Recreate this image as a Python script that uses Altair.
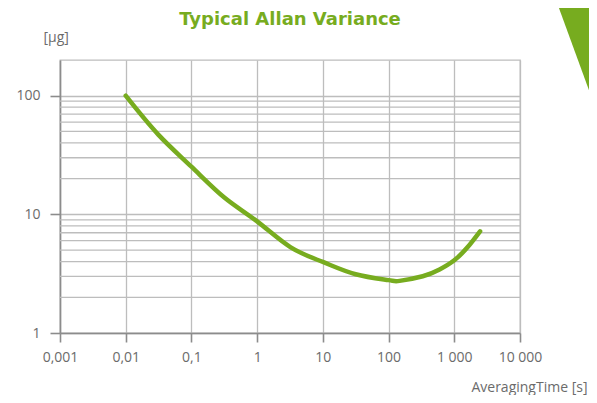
import altair as alt
import pandas as pd

# Curve (averaging time [s], Allan deviation [µg])
tau = [0.01, 0.0313, 0.1, 0.32, 1, 3.2, 10, 31.6, 100, 147, 331, 597, 1000, 1600, 2470]
dev = [100, 47, 25.2, 13.8, 8.73, 5.3, 3.97, 3.13, 2.79, 2.75, 3.01, 3.43, 4.1, 5.3, 7.2]

x_ticks = [0.001, 0.01, 0.1, 1, 10, 100, 1000, 10000]
x_labels = ["0,001", "0,01", "0,1", "1", "10", "100", "1 000", "10 000"]
y_ticks = [1, 10, 100]
y_labels = ["1", "10", "100"]
y_minor = [2, 3, 4, 5, 6, 7, 8, 9, 20, 30, 40, 50, 60, 70, 80, 90]

GREEN = "#77ac1f"
GRID = "#bdbdbd"
TEXT = "#6b6b6b"
FONT = "Open Sans"

df = pd.DataFrame({"tau": tau, "dev": dev})
minor = pd.DataFrame({"v": y_minor})

x_expr = " : ".join(f"datum.value == {v} ? '{l}'" for v, l in zip(x_ticks, x_labels)) + " : ''"
y_expr = " : ".join(f"datum.value == {v} ? '{l}'" for v, l in zip(y_ticks, y_labels)) + " : ''"

xscale = alt.Scale(type="log", domain=[0.001, 10000])
yscale = alt.Scale(type="log", domain=[1, 200])

x_axis = alt.Axis(
    values=x_ticks, labelExpr=x_expr, title="AveragingTime [s]",
    grid=True, gridColor=GRID, gridWidth=1.3, gridOpacity=1,
    domainColor="#8c8c8c", domainWidth=1.6, tickColor="#8c8c8c", tickWidth=1.6,
    tickSize=9, labelPadding=8, labelColor=TEXT, labelFontSize=14, labelFont=FONT,
    labelFlush=False,
    titleFont=FONT, titleFontSize=14, titleFontWeight="normal", titleColor=TEXT,
    titleAnchor="end", titleAlign="right", titleX=527, titleY=54, titleBaseline="middle",
)
y_axis = alt.Axis(
    values=y_ticks, labelExpr=y_expr, title="[µg]",
    grid=True, gridColor=GRID, gridWidth=1.3, gridOpacity=1,
    domainColor="#8c8c8c", domainWidth=1.6, tickColor="#8c8c8c", tickWidth=1.6,
    tickSize=10, labelPadding=10, labelColor=TEXT, labelFontSize=14, labelFont=FONT,
    labelFlush=False,
    titleFont=FONT, titleFontSize=14, titleFontWeight="normal", titleColor=TEXT,
    titleAngle=0, titleAlign="left", titleBaseline="middle", titleX=-17, titleY=-23,
)

grid = alt.Chart(minor).mark_rule(color=GRID, strokeWidth=1.3).encode(
    y=alt.Y("v:Q", scale=yscale, axis=y_axis)
)

line = alt.Chart(df).mark_line(
    color=GREEN, strokeWidth=4.5, strokeCap="round", interpolate="natural"
).encode(
    x=alt.X("tau:Q", scale=xscale, axis=x_axis),
    y=alt.Y("dev:Q", scale=yscale, axis=y_axis),
)

triangle = alt.Chart(pd.DataFrame({"k": [0]})).mark_point(
    shape="M -0.366 -1 L 0.366 -1 L 0.366 1 Z", filled=True, fill=GREEN,
    opacity=1, size=12544, strokeWidth=0,
).encode(x=alt.value(516.5), y=alt.value(-4))

chart = alt.layer(grid, line, triangle).properties(
    width=460, height=273,
    title=alt.TitleParams("Typical Allan Variance", color=GREEN, fontSize=18,
                          font="DejaVu Sans", fontWeight="bold", anchor="middle",
                          frame="group", offset=-29),
    autosize=alt.AutoSizeParams(type="none"),
    padding={"left": 52, "top": 52, "right": 69, "bottom": 62},
).configure_view(stroke=GRID, strokeWidth=1.3)

chart.save("out.html", embed_options={"renderer": "svg", "actions": False})
